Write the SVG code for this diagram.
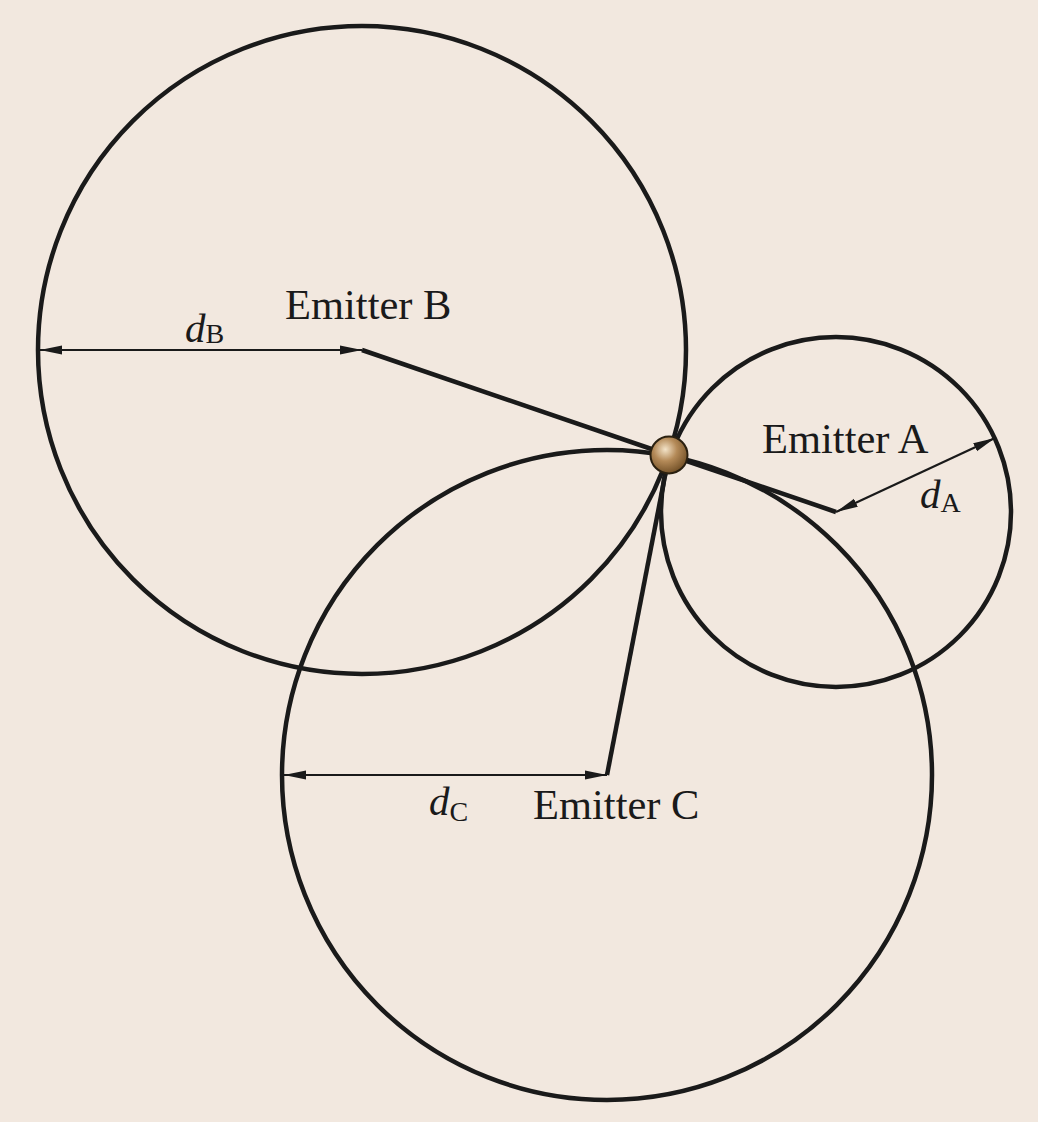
<svg xmlns="http://www.w3.org/2000/svg" width="1038" height="1122" viewBox="0 0 1038 1122">
<defs>
<style>
.circ{fill:none;stroke:#1a1a1a;stroke-width:4.5}
.rad{fill:none;stroke:#1a1a1a;stroke-width:4.5;stroke-linecap:butt}
.dim{fill:none;stroke:#1a1a1a;stroke-width:2.2}
.lbl{font-family:"Liberation Serif","Times New Roman",serif;font-size:42.5px;fill:#1a1a1a}
.it{font-family:"Liberation Serif","Times New Roman",serif;font-style:italic;font-size:41px;fill:#1a1a1a}
.sub{font-family:"Liberation Serif","Times New Roman",serif;font-size:28px;fill:#1a1a1a}
</style>
<marker id="ah" viewBox="0 0 22 10" refX="22" refY="5" markerWidth="22" markerHeight="10" markerUnits="userSpaceOnUse" orient="auto-start-reverse">
<path d="M0,0.5 L22,5 L0,9.5 Z" fill="#1a1a1a"/>
</marker>
<radialGradient id="ball" cx="0.4" cy="0.35" r="0.7">
<stop offset="0" stop-color="#f3e3c8"/>
<stop offset="0.45" stop-color="#b48a58"/>
<stop offset="1" stop-color="#6b4a22"/>
</radialGradient>
</defs>
<rect width="1038" height="1122" fill="#f2e8df"/>
<g id="circleB"><circle class="circ" cx="362" cy="350" r="324"/></g>
<g id="circleA"><circle class="circ" cx="836" cy="512" r="175"/></g>
<g id="circleC"><circle class="circ" cx="607" cy="775" r="325"/></g>
<g id="connectors">
<line class="rad" x1="362" y1="350" x2="669" y2="455"/>
<line class="rad" x1="836" y1="512" x2="669" y2="455"/>
<line class="rad" x1="607" y1="775" x2="669" y2="455"/>
<line class="dim" x1="40" y1="350" x2="362" y2="350" marker-start="url(#ah)" marker-end="url(#ah)"/>
<line class="dim" x1="836" y1="512" x2="995" y2="438" marker-start="url(#ah)" marker-end="url(#ah)"/>
<line class="dim" x1="284" y1="775" x2="607" y2="775" marker-start="url(#ah)" marker-end="url(#ah)"/>
</g>
<g id="receiver"><circle cx="669" cy="455" r="18.5" fill="url(#ball)" stroke="#2a2010" stroke-width="2"/></g>
<g id="emitterB"><text class="lbl" x="285" y="319">Emitter B</text>
<text x="185" y="342"><tspan class="it">d</tspan><tspan class="sub" dy="1">B</tspan></text></g>
<g id="emitterA"><text class="lbl" x="762" y="453">Emitter A</text>
<text x="920" y="508"><tspan class="it">d</tspan><tspan class="sub" dy="4">A</tspan></text></g>
<g id="emitterC"><text class="lbl" x="533" y="819">Emitter C</text>
<text x="429" y="815"><tspan class="it">d</tspan><tspan class="sub" dy="6">C</tspan></text></g>
</svg>
